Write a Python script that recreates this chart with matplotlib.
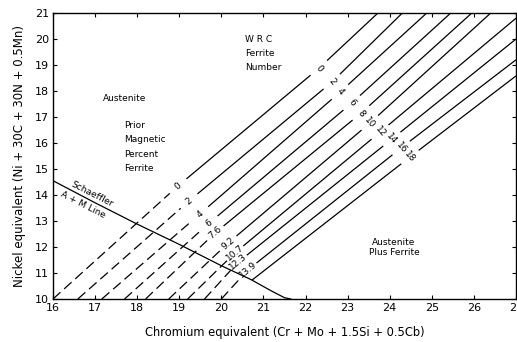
import numpy as np
import matplotlib
matplotlib.use("Agg")
import matplotlib.pyplot as plt

# iso-ferrite lines: start point, prior-magnetic label point, FN label point, end point
pm_labels = ["0", "2", "4", "6", "7.6", "9.2", "10.7", "12.3", "13.9", None]
fn_labels = ["0", "2", "4", "6", "8", "10", "12", "14", "16", "18"]
start_cr = [16.0, 16.59, 17.16, 17.7, 18.2, 18.75, 19.2, 19.6, 20.0, 20.73]
start_ni = [10.0, 10.0, 10.0, 10.0, 10.0, 10.0, 10.0, 10.0, 10.0, 10.73]
pm_cr = [18.97, 19.23, 19.49, 19.71, 19.85, 20.16, 20.32, 20.4, 20.63, None]
pm_ni = [14.35, 13.77, 13.27, 12.92, 12.54, 12.15, 11.77, 11.42, 11.12, None]
fn_cr = [22.32, 22.63, 22.82, 23.10, 23.32, 23.53, 23.77, 24.05, 24.27, 24.48]
fn_ni = [18.88, 18.35, 17.96, 17.54, 17.15, 16.77, 16.42, 16.15, 15.81, 15.46]
end_cr = [23.72, 24.3, 24.88, 25.45, 25.95, 26.4, 27.0, 27.0, 27.0, 27.0]
end_ni = [21.0, 21.0, 21.0, 21.0, 21.0, 21.0, 20.8, 20.0, 19.2, 18.58]

# Schaeffler A+M line
sch_cr = [16.0, 17.0, 18.0, 19.0, 20.0, 20.7, 21.2, 21.5, 21.65]
sch_ni = [14.55, 13.7, 12.88, 12.1, 11.28, 10.75, 10.3, 10.05, 10.0]

fig = plt.figure(figsize=(5.17, 3.42), dpi=100)
ax = fig.add_axes([53 / 517, 43 / 342, 463 / 517, 286 / 342])
ax.set_xlim(16, 27)
ax.set_ylim(10, 21)

# pixels per data unit, used to trim segments around labels
px_x = 463 / 11
px_y = 286 / 11


def seg(p0, p1, gap0, gap1, **kw):
    dx = (p1[0] - p0[0]) * px_x
    dy = (p1[1] - p0[1]) * px_y
    L = np.hypot(dx, dy)
    t0, t1 = gap0 / L, 1 - gap1 / L
    xs = [p0[0] + t0 * (p1[0] - p0[0]), p0[0] + t1 * (p1[0] - p0[0])]
    ys = [p0[1] + t0 * (p1[1] - p0[1]), p0[1] + t1 * (p1[1] - p0[1])]
    ax.plot(xs, ys, color="black", lw=0.9, solid_capstyle="butt", **kw)


gap = 11
for i in range(len(fn_labels)):
    p_start = (start_cr[i], start_ni[i])
    p_fn = (fn_cr[i], fn_ni[i])
    p_end = (end_cr[i], end_ni[i])
    if pm_labels[i] is not None:
        p_pm = (pm_cr[i], pm_ni[i])
        seg(p_start, p_pm, 0, gap, dashes=(8, 4))
        seg(p_pm, p_fn, gap, gap)
        ax.text(*p_pm, pm_labels[i], rotation=40, ha="center", va="center",
                fontsize=6.5, rotation_mode="anchor")
    else:
        seg(p_start, p_fn, 0, gap)
    seg(p_fn, p_end, gap, 0)
    ax.text(*p_fn, fn_labels[i], rotation=-50, ha="center", va="center",
            fontsize=6.5, rotation_mode="anchor")

ax.plot(sch_cr, sch_ni, color="black", lw=0.9)

ax.text(16.93, 14.02, "Schaeffler", rotation=-27, ha="center", va="center", fontsize=6.5)
ax.text(16.71, 13.62, "A + M Line", rotation=-27, ha="center", va="center", fontsize=6.5)
ax.text(17.71, 17.73, "Austenite", ha="center", va="center", fontsize=6.5)
ax.text(17.7, 15.85, "Prior\nMagnetic\nPercent\nFerrite", ha="left", va="center",
        fontsize=6.5, linespacing=1.75)
ax.text(20.56, 19.45, "W R C\nFerrite\nNumber", ha="left", va="center",
        fontsize=6.5, linespacing=1.75)
ax.text(24.1, 11.98, "Austenite\nPlus Ferrite", ha="center", va="center",
        fontsize=6.5, linespacing=1.2)

xticks = list(range(16, 28))
yticks = list(range(10, 22))
ax.set_xticks(xticks)
ax.set_yticks(yticks)
ax.tick_params(direction="in", top=True, right=True, length=3, width=0.8,
               labelsize=8, pad=3)
for s in ax.spines.values():
    s.set_linewidth(1.0)

ax.set_xlabel("Chromium equivalent (Cr + Mo + 1.5Si + 0.5Cb)", fontsize=8.3, labelpad=9)
ax.set_ylabel("Nickel equivalent (Ni + 30C + 30N + 0.5Mn)", fontsize=8.5, labelpad=6)

fig.savefig("out.png", dpi=100)
